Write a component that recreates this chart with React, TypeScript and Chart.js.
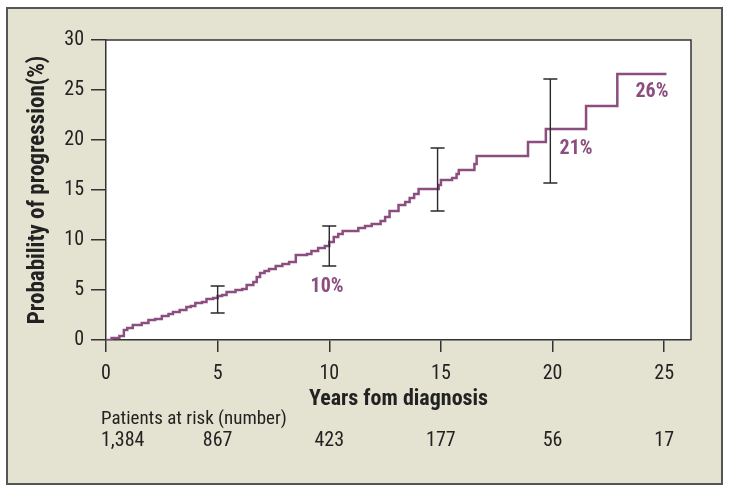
import React, { useEffect, useRef } from "react";
import { Chart, registerables } from "chart.js";

Chart.register(...registerables);

// Step-curve data (years, cumulative probability %)
const years = [0, 0.25, 0.6, 0.8, 0.95, 1.2, 1.6, 1.9, 2.2, 2.5, 2.8, 3.0, 3.3, 3.6, 3.8, 4.0, 4.3, 4.5, 4.8, 5.0, 5.2, 5.4, 5.8, 6.1, 6.3, 6.6, 6.75, 6.9, 7.1, 7.3, 7.6, 7.9, 8.2, 8.5, 9.0, 9.2, 9.5, 9.8, 10.0, 10.2, 10.4, 10.6, 11.3, 11.6, 11.9, 12.3, 12.5, 12.7, 13.1, 13.4, 13.6, 13.8, 14.0, 14.9, 15.0, 15.5, 15.7, 15.8, 16.5, 16.6, 18.9, 19.7, 21.5, 22.9, 25.1];
const probability = [0, 0.2, 0.4, 1.0, 1.2, 1.5, 1.7, 2.0, 2.1, 2.4, 2.6, 2.8, 3.0, 3.3, 3.4, 3.7, 3.8, 4.1, 4.2, 4.4, 4.5, 4.8, 5.0, 5.1, 5.5, 5.8, 6.3, 6.7, 6.9, 7.1, 7.4, 7.6, 7.8, 8.5, 8.6, 8.9, 9.2, 9.4, 9.8, 10.3, 10.6, 10.9, 11.2, 11.4, 11.6, 11.9, 12.3, 12.9, 13.5, 13.8, 14.2, 14.6, 15.1, 15.5, 16.0, 16.2, 16.6, 17.0, 17.6, 18.4, 19.8, 21.1, 23.4, 26.6, 26.6];

// Confidence intervals
const ciYears = [5, 10, 14.85, 19.9];
const ciLow = [2.7, 7.4, 12.9, 15.7];
const ciHigh = [5.4, 11.4, 19.2, 26.1];

// Annotated values
const annotationText = ["10%", "21%", "26%"];
const annotationYears = [9.9, 21.05, 24.45];
const annotationValues = [5.3, 19.1, 24.8];

// Axis ticks and risk table
const xTicks = [0, 5, 10, 15, 20, 25];
const atRisk = ["1,384", "867", "423", "177", "56", "17"];

const FONT = "'Liberation Sans Narrow', 'Roboto Condensed', 'Liberation Sans', sans-serif";
const PURPLE = "#8b4e7f";
const DARK = "#333333";

const overlay = {
  id: "overlay",
  afterDatasetsDraw(chart: any) {
    const ctx = chart.ctx;
    const xs = chart.scales.x;
    const ys = chart.scales.y;
    const a = chart.chartArea;
    ctx.save();
    // box top/right
    ctx.strokeStyle = DARK;
    ctx.lineWidth = 1.5;
    ctx.beginPath();
    ctx.moveTo(a.left, a.top);
    ctx.lineTo(a.right, a.top);
    ctx.lineTo(a.right, a.bottom);
    ctx.stroke();
    // error bars
    ctx.strokeStyle = "#2a2a2a";
    ctx.lineWidth = 1.4;
    ciYears.forEach((t, i) => {
      const px = xs.getPixelForValue(t);
      const lo = ys.getPixelForValue(ciLow[i]);
      const hi = ys.getPixelForValue(ciHigh[i]);
      ctx.beginPath();
      ctx.moveTo(px, lo);
      ctx.lineTo(px, hi);
      ctx.moveTo(px - 7, lo);
      ctx.lineTo(px + 7, lo);
      ctx.moveTo(px - 7, hi);
      ctx.lineTo(px + 7, hi);
      ctx.stroke();
    });
    // annotations
    ctx.fillStyle = PURPLE;
    ctx.font = "bold 20px " + FONT;
    ctx.textAlign = "center";
    ctx.textBaseline = "middle";
    annotationText.forEach((s, i) => {
      ctx.fillText(s, xs.getPixelForValue(annotationYears[i]), ys.getPixelForValue(annotationValues[i]));
    });
    // y title
    ctx.fillStyle = "#222";
    ctx.font = "bold 23px " + FONT;
    ctx.save();
    ctx.translate(38, (a.top + a.bottom) / 2);
    ctx.rotate(-Math.PI / 2);
    ctx.fillText("Probability of progression(%)", 0, 0);
    ctx.restore();
    // x title
    ctx.font = "bold 22px " + FONT;
    ctx.fillText("Years fom diagnosis", (a.left + a.right) / 2, 399);
    // risk table
    ctx.font = "19px " + FONT;
    ctx.textAlign = "left";
    ctx.fillText("Patients at risk (number)", 101, 419);
    ctx.font = "20px " + FONT;
    atRisk.forEach((s, i) => {
      const px = xs.getPixelForValue(xTicks[i]);
      if (i === 0) {
        ctx.textAlign = "left";
        ctx.fillText(s, px - 5, 441);
      } else {
        ctx.textAlign = "center";
        ctx.fillText(s, px, 441);
      }
    });
    ctx.restore();
  },
};

export default function App() {
  const ref = useRef<HTMLCanvasElement>(null);
  useEffect(() => {
    if (!ref.current) return;
    const chart = new Chart(ref.current, {
      type: "line",
      data: {
        datasets: [
          {
            data: years.map((t, i) => ({ x: t, y: probability[i] })),
            borderColor: PURPLE,
            borderWidth: 2.5,
            stepped: "before",
            pointRadius: 0,
            fill: false,
          },
        ],
      },
      options: {
        animation: false,
        responsive: false,
        devicePixelRatio: 1,
        layout: { padding: { top: 40, right: 38, left: 0, bottom: 103 } },
        plugins: { legend: { display: false }, tooltip: { enabled: false } },
        scales: {
          x: {
            type: "linear",
            min: 0,
            max: 26.2,
            afterFit: (s: any) => {
              s.height = 50;
            },
            afterBuildTicks: (s: any) => {
              s.ticks = xTicks.map((v) => ({ value: v }));
            },
            grid: { drawOnChartArea: false, drawTicks: true, tickLength: 12, color: DARK, lineWidth: 1.5 },
            border: { display: true, color: DARK, width: 1.5 },
            ticks: { font: { family: FONT, size: 20 }, color: "#222", padding: 10, maxRotation: 0 },
          },
          y: {
            min: 0,
            max: 30,
            afterFit: (s: any) => {
              s.width = 106;
            },
            ticks: { stepSize: 5, font: { family: FONT, size: 20 }, color: "#222", padding: 7 },
            grid: { drawOnChartArea: false, drawTicks: true, tickLength: 15, color: DARK, lineWidth: 1.5 },
            border: { display: true, color: DARK, width: 1.5 },
          },
        },
      },
      plugins: [overlay],
    });
    return () => chart.destroy();
  }, []);
  return (
    <div style={{ position: "absolute", left: 0, top: 0, width: 729, height: 493, background: "#fff" }}>
      <div
        style={{
          position: "absolute",
          left: 6,
          top: 7,
          width: 717,
          height: 478,
          boxSizing: "border-box",
          border: "2px solid #555",
          background: "#e4e3d1",
        }}
      />
      <div style={{ position: "absolute", left: 106, top: 40, width: 585, height: 300, background: "#fff" }} />
      <canvas ref={ref} width={729} height={493} style={{ position: "absolute", left: 0, top: 0, width: 729, height: 493 }} />
    </div>
  );
}
